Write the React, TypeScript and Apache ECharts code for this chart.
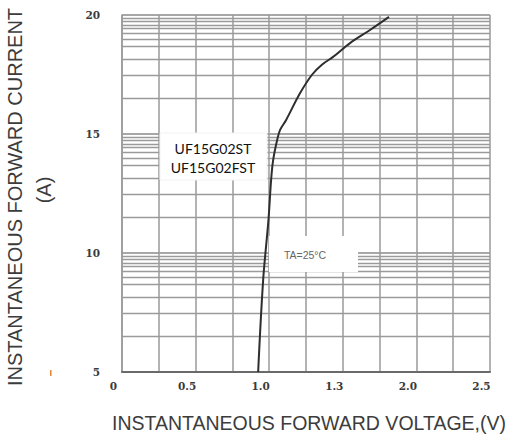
import React, { useEffect, useRef } from "react";
import * as echarts from "echarts";

// Curve: forward voltage (V) vs forward current (A)
const voltage = [0.925, 0.959, 0.995, 1.013, 1.027, 1.054, 1.074, 1.115, 1.21, 1.292, 1.36, 1.434, 1.549, 1.685, 1.814];
const current = [5.0, 8.87, 11.39, 13.07, 13.91, 14.75, 15.17, 15.59, 16.72, 17.5, 17.92, 18.24, 18.82, 19.37, 19.92];

// Axis tick labels as printed
const xTickValues = [0, 0.5, 1.0, 1.5, 2.0, 2.5];
const xTickLabels = ["0", "0.5", "1.0", "1.3", "2.0", "2.5"];
const yTickValues = [5, 10, 15, 20];

// Horizontal minor grid (log-paper style) positions inside each 5 A band, as fractions
const bandStarts = [5, 10, 15];
const minorGridFractions = [0.3, 0.49, 0.63, 0.74, 0.8, 0.845, 0.885, 0.915, 0.945, 0.972];

const legendLines = ["UF15G02ST", "UF15G02FST"];
const tempLabel = "TA=25°C";
const yTitle = "INSTANTANEOUS FORWARD CURRENT";
const yUnit = "(A)";
const xTitle = "INSTANTANEOUS FORWARD VOLTAGE,(V)";

export default function App() {
  const ref = useRef<HTMLDivElement>(null);

  useEffect(() => {
    if (!ref.current) return;
    const chart = echarts.init(ref.current, null, { renderer: "svg" });

    const minorLines: any[] = [];
    bandStarts.forEach((b) => {
      minorGridFractions.forEach((f) => minorLines.push({ yAxis: b + 5 * f }));
    });

    const gridColor = "#9a9a9a";

    chart.setOption({
      animation: false,
      backgroundColor: "#ffffff",
      grid: { left: 122, right: 22, top: 15, bottom: 65 },
      xAxis: {
        type: "value",
        min: 0,
        max: 2.5,
        interval: 0.25,
        axisLine: { show: true, lineStyle: { color: "#6a6a6a", width: 2 } },
        axisTick: { show: false },
        splitLine: { show: true, lineStyle: { color: gridColor, width: 1.5 } },
        axisLabel: {
          margin: 8,
          interval: 0,
          padding: [0, 17, 0, 0],
          fontFamily: "DejaVu Serif",
          fontWeight: "bold",
          fontSize: 10.5,
          color: "#3a3a3a",
          formatter: (v: number) => {
            const i = xTickValues.findIndex((t) => Math.abs(t - v) < 1e-6);
            return i >= 0 ? xTickLabels[i] : "";
          },
        },
      },
      yAxis: {
        type: "value",
        min: 5,
        max: 20,
        interval: 5,
        axisLine: { show: true, lineStyle: { color: gridColor, width: 1.5 } },
        axisTick: { show: false },
        splitLine: { show: true, lineStyle: { color: "#8a8a8a", width: 1.6 } },
        axisLabel: {
          margin: 22,
          fontFamily: "DejaVu Serif",
          fontWeight: "bold",
          fontSize: 10.5,
          color: "#3a3a3a",
          formatter: (v: number) => (yTickValues.includes(v) ? String(v) : ""),
        },
      },
      series: [
        {
          type: "line",
          data: [],
          z: 1,
          silent: true,
          markLine: {
            z: 1,
            silent: true,
            symbol: ["none", "none"],
            label: { show: false },
            lineStyle: { color: gridColor, type: "solid", width: 1.3 },
            data: minorLines,
          },
        },
        {
          type: "line",
          z: 10,
          data: voltage.map((v, i) => [v, current[i]]),
          smooth: 0.35,
          showSymbol: false,
          lineStyle: { color: "#2e2e2e", width: 2 },
        },
      ],
      graphic: [
        {
          type: "rect",
          z: 5,
          shape: { x: 160, y: 133, width: 107, height: 47 },
          style: { fill: "#ffffff", stroke: "#f2f2f2", lineWidth: 1 },
        },
        {
          type: "text",
          z: 6,
          x: 213,
          y: 148,
          style: {
            text: legendLines[0],
            align: "center",
            verticalAlign: "middle",
            fontFamily: "Lato",
            fontSize: 14,
            fill: "#111111",
          },
        },
        {
          type: "text",
          z: 6,
          x: 213,
          y: 167,
          style: {
            text: legendLines[1],
            align: "center",
            verticalAlign: "middle",
            fontFamily: "Lato",
            fontSize: 14,
            fill: "#111111",
          },
        },
        {
          type: "rect",
          z: 5,
          shape: { x: 269, y: 236, width: 89, height: 36 },
          style: { fill: "#ffffff" },
        },
        {
          type: "text",
          z: 6,
          x: 305,
          y: 255,
          style: {
            text: tempLabel,
            align: "center",
            verticalAlign: "middle",
            fontFamily: "Liberation Sans",
            fontSize: 10.5,
            fill: "#666666",
          },
        },
        {
          type: "text",
          z: 6,
          x: 15,
          y: 197,
          rotation: Math.PI / 2,
          style: {
            text: yTitle,
            align: "center",
            verticalAlign: "middle",
            fontFamily: "Liberation Sans",
            fontSize: 20,
            fill: "#3c3c3c",
          },
        },
        {
          type: "text",
          z: 6,
          x: 44,
          y: 190,
          rotation: Math.PI / 2,
          style: {
            text: yUnit,
            align: "center",
            verticalAlign: "middle",
            fontFamily: "Liberation Sans",
            fontSize: 20,
            fill: "#3c3c3c",
          },
        },
        {
          type: "text",
          z: 6,
          x: 309,
          y: 423,
          style: {
            text: xTitle,
            align: "center",
            verticalAlign: "middle",
            fontFamily: "Liberation Sans",
            fontSize: 19.5,
            fill: "#3c3c3c",
          },
        },
        {
          type: "rect",
          z: 6,
          shape: { x: 50, y: 370, width: 1.5, height: 6 },
          style: { fill: "#e0883a" },
        },
      ],
    });

    return () => chart.dispose();
  }, []);

  return (
    <div
      ref={ref}
      style={{ position: "fixed", left: 0, top: 0, width: 512, height: 437, background: "#fff" }}
    />
  );
}
